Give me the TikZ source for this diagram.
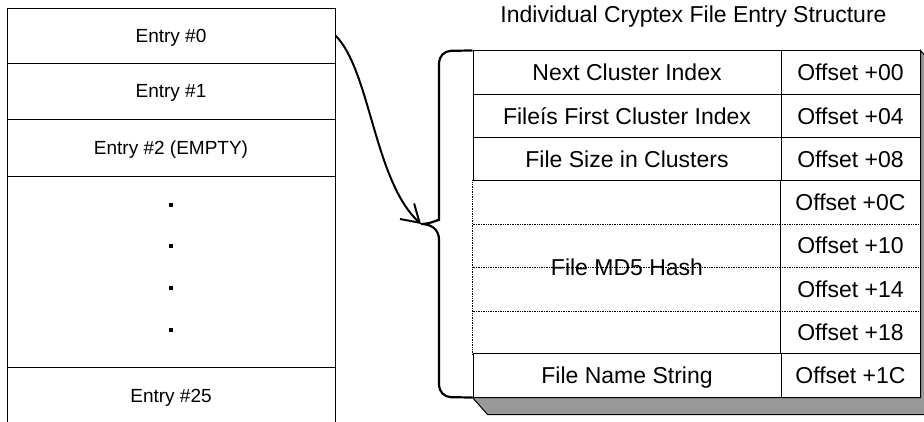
\documentclass[tikz,border=0pt]{standalone}
\usepackage{fontspec}
\setmainfont{Liberation Sans}
\usepackage{tikz}
\usetikzlibrary{arrows.meta}
\definecolor{shadowgray}{RGB}{153,153,153}

\begin{document}
\begin{tikzpicture}[>={Straight Barb[length=17pt,width=21pt]},x=1pt,y=-1pt,
	entry/.style={draw,line width=.9pt,minimum width=328pt,inner sep=0pt,text height=13.7pt,text depth=0pt,font=\fontsize{19}{23}\selectfont},
	cell/.style={draw,line width=1pt,minimum height=43.25pt,inner sep=0pt,text height=16.5pt,text depth=0pt,font=\fontsize{23}{27}\selectfont},
	field/.style={cell,minimum width=308pt},
	offs/.style={cell,minimum width=139pt},
	sep/.style={densely dotted,line width=.7pt},
	dotmark/.style={fill,minimum size=3.5pt,inner sep=0pt}]
	\useasboundingbox (0,0) rectangle (924,422);
	% cryptex file table
	\node[entry,minimum height=55pt] (e0) at (171,35.5) {Entry \#0};
	\node[entry,minimum height=56pt] (e1) at (171,91) {Entry \#1};
	\node[entry,minimum height=57pt] (e2) at (171,147.5) {Entry \#2 (EMPTY)};
	\node[entry,minimum height=191pt] (gap) at (171,271.5) {};
	\node[entry,minimum height=57pt] (e25) at (171,395.5) {Entry \#25};
	\node[dotmark] (v1) at (171,205) {};
	\node[dotmark] (v2) at (171,246) {};
	\node[dotmark] (v3) at (171,288) {};
	\node[dotmark] (v4) at (171,330) {};
	% one entry
	\node[font=\fontsize{23}{27}\selectfont] (ttl) at (693.5,17) {Individual Cryptex File Entry Structure};
	\node[field] (f0) at (627,72.6) {Next Cluster Index};
	\node[field] (f1) at (627,115.9) {Fileís First Cluster Index};
	\node[field] (f2) at (627,159.1) {File Size in Clusters};
	\node[field,draw=none,minimum height=173pt] (hash) at (627,267.5) {File MD5 Hash};
	\node[field] (f7) at (627,375.4) {File Name String};
	\node[offs] (o0) at (850.5,72.6) {Offset +00};
	\node[offs] (o1) at (850.5,115.9) {Offset +04};
	\node[offs] (o2) at (850.5,159.1) {Offset +08};
	\node[offs,draw=none] (o3) at (850.5,202.4) {Offset +0C};
	\node[offs,draw=none] (o4) at (850.5,245.6) {Offset +10};
	\node[offs,draw=none] (o5) at (850.5,288.9) {Offset +14};
	\node[offs,draw=none] (o6) at (850.5,332.1) {Offset +18};
	\node[offs] (o7) at (850.5,375.4) {Offset +1C};
	\draw[sep] (hash.north west) -- (hash.south west);
	\draw[sep] (o3.south west -| hash.west) -- (o3.south east);
	\draw[sep] (o4.south west -| hash.west) -- (o4.south east);
	\draw[sep] (o5.south west -| hash.west) -- (o5.south east);
	\draw[line width=.8pt] (o3.north west) -- (o6.south west);
	\draw[line width=1pt] (o3.north east) -- (o6.south east);
	\filldraw[fill=shadowgray,line width=1pt] (f7.south west) -- ++(15,17) -| ([shift={(15,17)}]o0.north east) -- (o0.north east) |- cycle;
	\draw[line width=1.8pt] (f0.north west) -- (o0.north east) -- (o7.south east) -- (f7.south west);
	% brace and arrow
	\coordinate (tip) at (421,224);
	\draw[line width=2.2pt] (f0.north west) [rounded corners=12pt] -- (439,51) -- (439,208) [sharp corners]
	.. controls (439,219) and (431,224) .. (tip) .. controls (431,224) and (439,229) .. (439,240)
	[rounded corners=12pt] -- (439,397) -- (f7.south west);
	\draw[->,line width=2pt] (e0.east) .. controls +(35,35) and +(-47,-43) .. (tip);
\end{tikzpicture}
\end{document}
